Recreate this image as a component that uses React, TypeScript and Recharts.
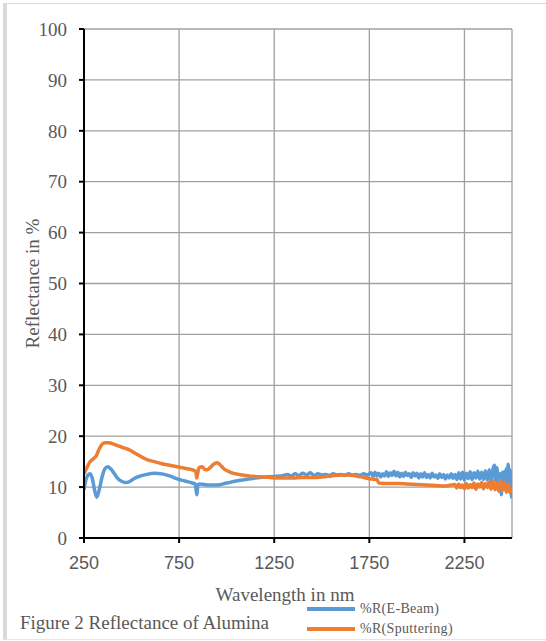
import { LineChart, Line, XAxis, YAxis, CartesianGrid, Legend } from 'recharts'

// wavelength (nm) / %R
const eBeamWavelength = [
  250, 260, 270, 282, 295, 305, 317, 330, 345, 360, 375, 390, 410, 430, 450, 470, 490, 510, 540, 580,
  620, 660, 700, 740, 780, 820, 835, 840, 844, 848, 860, 900, 950, 1000, 1050, 1100, 1150, 1200, 1250, 1300,
  1320, 1340, 1360, 1380, 1400, 1420, 1440, 1460, 1480, 1500, 1520, 1540, 1560, 1580, 1600, 1620, 1640, 1660, 1680, 1700,
  1720, 1740, 1760, 1770, 1780, 1790, 1800, 1810, 1820, 1830, 1840, 1850, 1860, 1870, 1880, 1890, 1900, 1910, 1920, 1930,
  1940, 1950, 1960, 1970, 1980, 1990, 2000, 2010, 2020, 2030, 2040, 2050, 2060, 2070, 2080, 2090, 2100, 2110, 2120, 2130,
  2140, 2150, 2160, 2170, 2180, 2190, 2200, 2210, 2220, 2230, 2240, 2250, 2260, 2270, 2280, 2290, 2300, 2310, 2320, 2330,
  2340, 2350, 2360, 2370, 2380, 2390, 2400, 2408, 2415, 2420, 2430, 2438, 2444, 2450, 2455, 2460, 2465, 2470, 2475, 2480,
  2485, 2490, 2495, 2500,
]
const eBeamReflectance = [
  9.5, 11.5, 12.3, 12.6, 11.5, 9.5, 8.0, 9.5, 12.0, 13.6, 14.0, 13.6, 12.6, 11.6, 11.1, 10.9, 11.1, 11.6, 12.1, 12.5,
  12.7, 12.6, 12.2, 11.6, 11.2, 10.8, 10.6, 9.2, 8.5, 10.4, 10.6, 10.4, 10.4, 10.8, 11.2, 11.5, 11.8, 12.0, 12.1, 12.3,
  12.5, 12.2, 12.6, 12.3, 12.7, 12.4, 12.8, 12.3, 12.6, 12.4, 12.5, 12.3, 12.6, 12.4, 12.5, 12.3, 12.6, 12.4, 12.5, 12.3,
  12.6, 12.4, 12.8, 12.1, 12.9, 12.2, 12.7, 12.0, 12.6, 12.2, 13.0, 12.1, 12.8, 12.3, 13.1, 12.2, 12.9, 12.0, 12.7, 12.1,
  12.9, 12.3, 12.6, 11.9, 12.8, 12.2, 12.7, 11.8, 12.6, 12.0, 12.8, 11.9, 12.5, 11.8, 12.7, 12.0, 12.4, 11.7, 12.6, 11.9,
  12.5, 11.6, 12.4, 11.8, 12.6, 11.7, 12.5, 11.5, 12.8, 11.6, 12.9, 11.4, 12.7, 11.7, 13.0, 11.5, 12.8, 11.8, 13.1, 11.6,
  12.9, 11.5, 13.2, 11.4, 13.4, 11.2, 13.6, 14.3, 11.3, 13.8, 11.0, 12.6, 8.5, 12.9, 10.4, 13.0, 9.8, 13.6, 11.5, 14.5,
  10.2, 13.4, 9.2, 7.8,
]

const sputterWavelength = [
  250, 265, 280, 300, 315, 330, 345, 361, 380, 403, 430, 460, 490, 508, 540, 582, 620, 660, 700, 740,
  780, 820, 838, 842, 846, 855, 871, 885, 897, 915, 935, 950, 965, 985, 1020, 1060, 1100, 1150, 1200, 1250,
  1300, 1350, 1400, 1450, 1500, 1550, 1600, 1640, 1680, 1720, 1760, 1790, 1800, 1850, 1900, 1950, 2000, 2050, 2100, 2150,
  2200, 2210, 2220, 2230, 2240, 2250, 2260, 2270, 2280, 2290, 2300, 2310, 2320, 2330, 2340, 2350, 2360, 2370, 2380, 2390,
  2400, 2410, 2420, 2430, 2440, 2450, 2460, 2470, 2480, 2490, 2500,
]
const sputterReflectance = [
  12.6, 13.8, 14.9, 15.6, 16.2, 17.5, 18.4, 18.7, 18.7, 18.5, 18.1, 17.7, 17.3, 16.9, 16.2, 15.4, 15.0, 14.6, 14.3, 14.0,
  13.7, 13.4, 13.1, 11.8, 12.4, 13.8, 14.0, 13.5, 13.4, 13.9, 14.6, 14.8, 14.4, 13.6, 12.9, 12.5, 12.3, 12.1, 12.0, 11.8,
  11.8, 11.8, 11.9, 11.9, 12.0, 12.2, 12.4, 12.4, 12.2, 11.9, 11.6, 11.5, 10.8, 10.7, 10.7, 10.6, 10.5, 10.4, 10.3, 10.2,
  10.5, 9.8, 10.6, 9.9, 10.4, 9.7, 10.7, 9.8, 10.5, 9.9, 10.8, 9.6, 10.6, 10.0, 10.9, 9.7, 10.7, 9.9, 11.0, 9.6,
  11.2, 9.5, 10.8, 9.2, 11.3, 9.4, 10.9, 9.0, 10.6, 8.9, 9.5,
]

const xTicks = [250, 750, 1250, 1750, 2250]
const yTicks = [0, 10, 20, 30, 40, 50, 60, 70, 80, 90, 100]

const seriesNames = ['%R(E-Beam)', '%R(Sputtering)']
const seriesColors = ['#5B9BD5', '#ED7D31']

const eBeamData = eBeamWavelength.map((wl, i) => ({ wl, r: eBeamReflectance[i] }))
const sputterData = sputterWavelength.map((wl, i) => ({ wl, r: sputterReflectance[i] }))

const serif = 'Liberation Serif, DejaVu Serif, serif'
const sans = 'Liberation Sans, Arial, sans-serif'
const textGray = '#595959'

function LegendBox() {
  return (
    <div style={{ fontFamily: serif, fontSize: 14, color: textGray }}>
      {seriesNames.map((name, i) => (
        <div key={name} style={{ display: 'flex', alignItems: 'center', height: 20 }}>
          <div style={{ width: 48, height: 3.5, background: seriesColors[i], marginRight: 5 }} />
          <span style={{ letterSpacing: 0.3 }}>{name}</span>
        </div>
      ))}
    </div>
  )
}

export default function App() {
  return (
    <div style={{ position: 'absolute', left: 0, top: 0, width: 546, height: 641, background: '#fff' }}>
      <div
        style={{
          position: 'absolute',
          left: 3,
          top: 3,
          width: 539,
          height: 635,
          borderLeft: '4px solid #dadada',
          borderTop: '1px solid #dadada',
          borderBottom: '1px solid #e6e6e6',
        }}
      />
      <LineChart
        width={546}
        height={641}
        margin={{ top: 29, right: 34, left: 0, bottom: 39 }}
        style={{ position: 'absolute', left: 0, top: 0 }}
      >
        <CartesianGrid stroke="#a0a0a0" strokeWidth={1.3} vertical horizontal />
        <XAxis
          type="number"
          dataKey="wl"
          domain={[250, 2500]}
          ticks={xTicks}
          allowDataOverflow
          height={64}
          axisLine={{ stroke: '#000', strokeWidth: 2 }}
          tickLine={{ stroke: '#000', strokeWidth: 2 }}
          tickSize={5}
          tickMargin={13}
          tick={{ fontSize: 18, fill: textGray, fontFamily: sans }}
          label={{
            value: 'Wavelength in nm',
            position: 'insideBottom',
            offset: 1,
            dx: -13,
            fontSize: 19,
            fill: textGray,
            fontFamily: serif,
          }}
        />
        <YAxis
          domain={[0, 100]}
          ticks={yTicks}
          width={84}
          axisLine={{ stroke: '#000', strokeWidth: 2 }}
          tickLine={{ stroke: '#000', strokeWidth: 2 }}
          tickSize={5}
          tickMargin={12}
          tick={{ fontSize: 19, fill: textGray, fontFamily: serif }}
          label={{
            value: 'Reflectance in %',
            angle: -90,
            position: 'center',
            dx: -10,
            fontSize: 19,
            fill: textGray,
            fontFamily: serif,
          }}
        />
        <Line
          data={eBeamData}
          dataKey="r"
          name={seriesNames[0]}
          type="monotone"
          stroke={seriesColors[0]}
          strokeWidth={3.5}
          dot={false}
          isAnimationActive={false}
        />
        <Line
          data={sputterData}
          dataKey="r"
          name={seriesNames[1]}
          type="monotone"
          stroke={seriesColors[1]}
          strokeWidth={3.5}
          dot={false}
          isAnimationActive={false}
        />
        <Legend
          layout="vertical"
          align="center"
          verticalAlign="middle"
          content={() => <LegendBox />}
          wrapperStyle={{ position: 'absolute', left: 307, top: 599, width: 200 }}
        />
      </LineChart>
      <div
        style={{
          position: 'absolute',
          left: 20,
          top: 612,
          fontFamily: serif,
          fontSize: 19,
          color: textGray,
          whiteSpace: 'nowrap',
        }}
      >
        Figure 2 Reflectance of Alumina
      </div>
    </div>
  )
}
